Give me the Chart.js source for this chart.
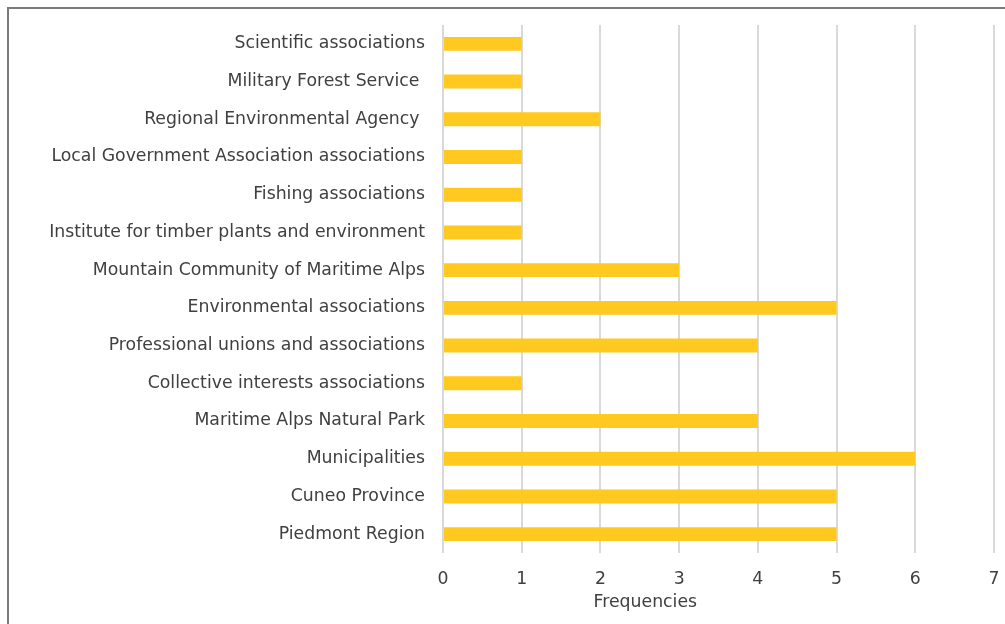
<!DOCTYPE html>
<html>
<head>
<meta charset="utf-8">
<script src="https://cdn.jsdelivr.net/npm/chart.js@4"></script>
<style>
  body { margin: 0; overflow: hidden; background: #fff; }
  #wrap { position: absolute; left: 0; top: 0; width: 1005px; height: 624px; }
  #frame { position: absolute; left: 7px; top: 7px; width: 1020px; height: 640px; border: 2px solid #7a7a7a; box-sizing: border-box; }
</style>
</head>
<body>
<div id="frame"></div>
<div id="wrap"><canvas id="myChart" width="1005" height="624"></canvas></div>
<script>
const categories = [
  'Scientific associations',
  'Military Forest Service ',
  'Regional Environmental Agency ',
  'Local Government Association associations',
  'Fishing associations',
  'Institute for timber plants and environment',
  'Mountain Community of Maritime Alps',
  'Environmental associations',
  'Professional unions and associations',
  'Collective interests associations',
  'Maritime Alps Natural Park',
  'Municipalities',
  'Cuneo Province',
  'Piedmont Region'
];
const frequencies = [1, 1, 2, 1, 1, 1, 3, 5, 4, 1, 4, 6, 5, 5];
const xTicks = [0, 1, 2, 3, 4, 5, 6, 7];
const axisTitle = 'Frequencies';

const textColor = '#404040';
const fontFamily = '"DejaVu Sans", sans-serif';
const fontSize = 17.3;

// draws the axis title a bit left of centre, like the original
const titlePlugin = {
  id: 'xTitle',
  afterDraw(chart) {
    const ctx = chart.ctx;
    const x = chart.scales.x.getPixelForValue(2.57);
    ctx.save();
    ctx.font = fontSize + 'px ' + fontFamily;
    ctx.fillStyle = textColor;
    ctx.textAlign = 'center';
    ctx.textBaseline = 'middle';
    ctx.fillText(axisTitle, x, 603);
    ctx.restore();
  }
};

new Chart(document.getElementById('myChart'), {
  type: 'bar',
  data: {
    labels: categories,
    datasets: [{
      data: frequencies,
      backgroundColor: '#FFC91F',
      borderWidth: 0,
      barPercentage: 0.37,
      categoryPercentage: 1
    }]
  },
  plugins: [titlePlugin],
  options: {
    indexAxis: 'y',
    responsive: false,
    animation: false,
    layout: { padding: { top: 25, right: 0, bottom: 0, left: 0 } },
    plugins: {
      legend: { display: false },
      tooltip: { enabled: false }
    },
    scales: {
      x: {
        min: 0,
        max: 7,
        afterBuildTicks: scale => { scale.ticks = xTicks.map(v => ({ value: v })); },
        afterFit: scale => {
          scale.height = 71;
          scale.paddingLeft = 0;
          scale.paddingRight = 11;
        },
        grid: { color: '#d9d9d9', lineWidth: 2, drawTicks: false },
        border: { display: false },
        ticks: { color: textColor, font: { family: fontFamily, size: fontSize }, padding: 16 }
      },
      y: {
        afterFit: scale => {
          scale.width = 443;
          scale.paddingTop = 0;
          scale.paddingBottom = 0;
        },
        grid: { display: false, drawTicks: false },
        border: { display: false },
        ticks: { color: textColor, font: { family: fontFamily, size: fontSize }, padding: 18 }
      }
    }
  }
});
</script>
</body>
</html>
